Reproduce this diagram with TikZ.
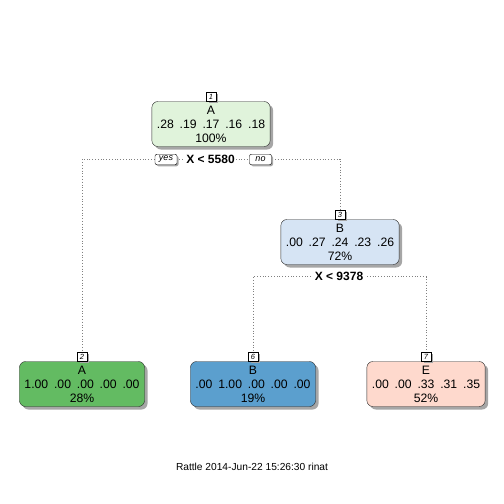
\documentclass[tikz,border=0pt]{standalone}
\usepackage{fontspec}
\setmainfont{Liberation Sans}
\usetikzlibrary{shapes, positioning, shadows, backgrounds}
\definecolor{rootgreen}{RGB}{224,243,219}
\definecolor{paleblue}{RGB}{214,228,244}
\definecolor{leafgreen}{RGB}{99,187,98}
\definecolor{leafblue}{RGB}{91,159,206}
\definecolor{leafpink}{RGB}{254,217,205}
\NewDocumentCommand{\probs}{mmmmm}{#1\hspace{.48em}#2\hspace{.48em}#3\hspace{.48em}#4\hspace{.48em}#5}

\begin{document}
\begin{tikzpicture}[x=1pt, y=-1pt,
    box/.style = {draw=black!85, rounded corners=6pt, minimum height=45pt, inner xsep=5pt, inner ysep=0pt,
        align=center, font=\fontsize{12.2}{14}\selectfont,
        drop shadow={shadow xshift=3pt, shadow yshift=-3pt, fill=black!35, opacity=1}},
    tab/.style = {draw, fill=white, inner sep=0.8pt, minimum size=9.5pt, font=\fontsize{7.5}{7.5}\selectfont\itshape,
        drop shadow={shadow xshift=2.5pt, shadow yshift=-1.5pt, fill=black!35, opacity=1}},
    split/.style = {fill=white, inner sep=1.5pt, font=\fontsize{12}{12}\selectfont\bfseries},
    answer/.style = {draw, fill=white, rounded corners=2pt, minimum width=22pt, minimum height=10.5pt, inner xsep=2pt, inner ysep=0.5pt,
        font=\fontsize{9}{9}\selectfont\itshape,
        drop shadow={shadow xshift=1.5pt, shadow yshift=-1.5pt, fill=black!35, opacity=1}},
    link/.style = {draw=black!50, dotted, line width=0.8pt}]
    \useasboundingbox (0,0) rectangle (504,504);

    \node[box, fill=rootgreen] (n1) at (211,124) {A\\\probs{.28}{.19}{.17}{.16}{.18}\\100\%};
    \node[tab] (t1) [above=-0.5pt of n1] {1};
    \node[split] (s1) at (210.5,159) {X < 5580};
    \node[answer] (yes) at (166,159.5) {yes};
    \node[answer] (no) at (260.5,159.5) {no};

    \node[box, fill=paleblue] (n3) at (340,242) {B\\\probs{.00}{.27}{.24}{.23}{.26}\\72\%};
    \node[tab] (t3) [above=-0.5pt of n3] {3};
    \node[split] (s2) at (339,276.5) {X < 9378};

    \node[box, fill=leafgreen] (n2) at (82,384) {A\\\probs{1.00}{.00}{.00}{.00}{.00}\\28\%};
    \node[tab] (t2) [above=-0.5pt of n2] {2};
    \node[box, fill=leafblue] (n6) at (253,384) {B\\\probs{.00}{1.00}{.00}{.00}{.00}\\19\%};
    \node[tab] (t6) [above=-0.5pt of n6] {6};
    \node[box, fill=leafpink] (n7) at (426,384) {E\\\probs{.00}{.00}{.33}{.31}{.35}\\52\%};
    \node[tab] (t7) [above=-0.5pt of n7] {7};

    \begin{scope}[on background layer]
        \draw[link] (s1.center) -| (t2.north);
        \draw[link] (s1.center) -| (t3.north);
        \draw[link] (s2.center) -| (t6.north);
        \draw[link] (s2.center) -| (t7.north);
    \end{scope}

    \node[font=\fontsize{10.2}{10.2}\selectfont] (footer) at (252,467) {Rattle 2014-Jun-22 15:26:30 rinat};
\end{tikzpicture}
\end{document}
